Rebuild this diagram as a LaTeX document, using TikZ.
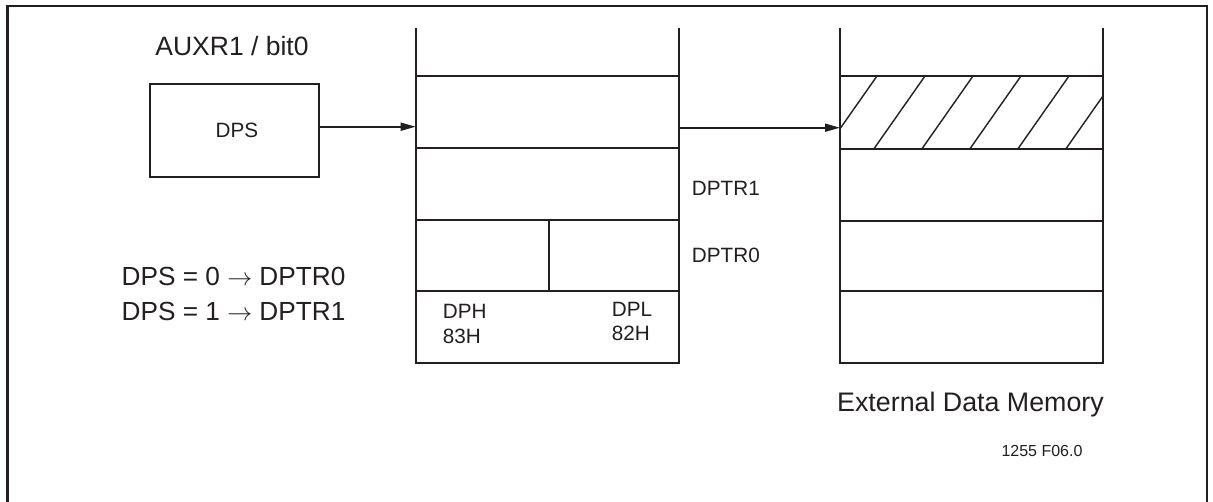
\documentclass[tikz,border=0pt]{standalone}
\usepackage{fontspec}
\setmainfont{Liberation Sans}
\usetikzlibrary{arrows.meta}
\definecolor{ink}{HTML}{231F20}
\begin{document}
\begin{tikzpicture}[x=1pt,y=-1pt,
  line/.style={draw=ink,line width=1.7pt},
  framel/.style={draw=ink,line width=2.3pt},
  txt/.style={inner sep=0pt,text=ink,font=\fontsize{20.7}{24}\selectfont},
  bigtxt/.style={inner sep=0pt,text=ink,font=\fontsize{26.5}{30}\selectfont},
  formtxt/.style={inner sep=0pt,text=ink,font=\fontsize{26.2}{30}\selectfont},
  smalltxt/.style={inner sep=0pt,text=ink,font=\fontsize{16}{19}\selectfont},
  arr/.style={line,-{Triangle[length=15pt,width=8pt]}},
  hatch/.style={draw=ink,line width=1.4pt}]
\useasboundingbox (0,0) rectangle (1213,501);
\fill[white] (0,0) rectangle (1213,501);
% outer frame (open at bottom)
\draw[framel] (7.5,520) -- (7.5,6) -- (1206.7,6) -- (1206.7,520);

% AUXR1 label and DPS box
\node[bigtxt,anchor=base] (aux) at (232,55) {AUXR1 / bit0};
\node[line,fill=white,minimum width=169pt,minimum height=93pt,inner sep=0pt,anchor=north west,
      text=ink,font=\fontsize{20.7}{24}\selectfont] (dps) at (149,83) {\hspace{5pt}DPS};

% middle column (DPTR)
\draw[line] (415.7,28) -- (415.7,362.7) -- (679.3,362.7) -- (679.3,28);
\draw[line] (415.7,76) -- (679.3,76);
\draw[line] (415.7,147.7) -- (679.3,147.7);
\draw[line] (415.7,220) -- (679.3,220);
\draw[line] (415.7,290.7) -- (679.3,290.7);
\draw[line] (549,220) -- (549,290.7);
\coordinate (min) at (415.7,126.7);
\coordinate (mout) at (679.3,127.7);

% right column (external memory)
\begin{scope}
  \clip (840,76) rectangle (1103.3,148.7);
  \foreach \b in {826,874,922,970,1018,1066,1114}
    \draw[hatch] (\b,148.7) -- ++(51,-72.7);
\end{scope}
\draw[line] (840,28) -- (840,362.7) -- (1103.3,362.7) -- (1103.3,28);
\draw[line] (840,76) -- (1103.3,76);
\draw[line] (840,148.7) -- (1103.3,148.7);
\draw[line] (840,220.7) -- (1103.3,220.7);
\draw[line] (840,291.3) -- (1103.3,291.3);
\coordinate (ein) at (840,127.7);

% connectors
\draw[arr] (dps.east |- min) -- (min);
\draw[arr] (mout) -- (ein);

% labels
\node[txt,anchor=base west] (dptr1) at (691.7,195) {DPTR1};
\node[txt,anchor=base west] (dptr0) at (691.7,262) {DPTR0};
\node[txt,anchor=base west] (dph) at (442.7,318.3) {DPH};
\node[txt,anchor=base west] (dph2) at (442.7,343.3) {83H};
\node[txt,anchor=base west] (dpl) at (611.7,316) {DPL};
\node[txt,anchor=base west] (dpl2) at (611.7,340.7) {82H};
\node[formtxt,anchor=base west] (f1) at (121.5,285) {DPS = 0 $\rightarrow$ DPTR0};
\node[formtxt,anchor=base west] (f2) at (121.5,320) {DPS = 1 $\rightarrow$ DPTR1};
\node[bigtxt,anchor=base,font=\fontsize{26.8}{30}\selectfont] (edm) at (970.5,411) {External Data Memory};
\node[smalltxt,anchor=base] (fig) at (1042,456.7) {1255 F06.0};
\end{tikzpicture}
\end{document}
